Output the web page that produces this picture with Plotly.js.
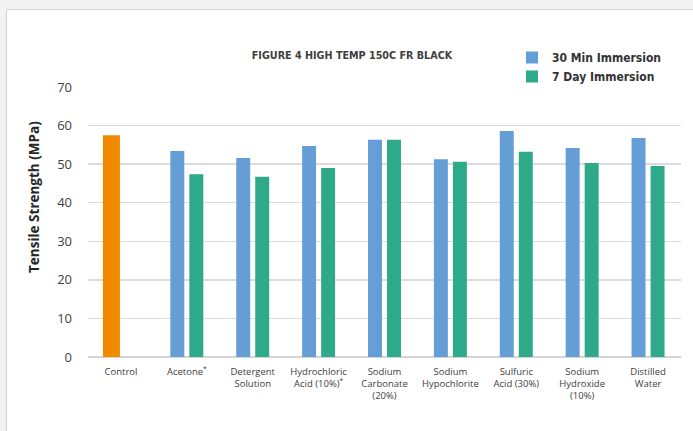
<!DOCTYPE html>
<html>
<head>
<meta charset="utf-8">
<script src="https://cdn.plot.ly/plotly-3.0.1.min.js"></script>
<style>
  html, body { margin: 0; padding: 0; background: #f2f2f2; width: 693px; height: 431px; overflow: hidden; }
  #frame { position: absolute; left: 6px; top: 9px; width: 720px; height: 460px; background: #ffffff; border: 1px solid #d4d4d4; }
  #chart { position: absolute; left: 0; top: 0; width: 693px; height: 431px; }
</style>
</head>
<body>
<div id="frame"></div>
<div id="chart"></div>
<script>
const controlLabel = ["Control"];
const controlValue = [57.5];
const categories = [
  "Acetone<sup>*</sup>",
  "Detergent<br>Solution",
  "Hydrochloric<br>Acid (10%)<sup>*</sup>",
  "Sodium<br>Carbonate<br>(20%)",
  "Sodium<br>Hypochlorite",
  "Sulfuric<br>Acid (30%)",
  "Sodium<br>Hydroxide<br>(10%)",
  "Distilled<br>Water"
];
const min30 = [53.4, 51.6, 54.7, 56.3, 51.3, 58.6, 54.2, 56.8];
const day7 = [47.4, 46.7, 49.0, 56.3, 50.6, 53.2, 50.3, 49.5];
const yTicks = [0, 10, 20, 30, 40, 50, 60, 70];

const allCats = controlLabel.concat(categories);

const traces = [
  {
    type: "bar", name: "Control", x: controlLabel, y: controlValue,
    marker: { color: "#F28A00" }, offsetgroup: "a", width: 0.258,
    showlegend: false, hoverinfo: "y"
  },
  {
    type: "bar", name: "30 Min Immersion", x: categories, y: min30,
    marker: { color: "#659ED6" }, offsetgroup: "a", width: 0.212
  },
  {
    type: "bar", name: "7 Day Immersion", x: categories, y: day7,
    marker: { color: "#2EAA8A" }, offsetgroup: "b", width: 0.212
  }
];

const narrow = "DejaVu Sans Condensed, Open Sans, sans-serif";

const layout = {
  width: 693, height: 431,
  paper_bgcolor: "rgba(0,0,0,0)", plot_bgcolor: "rgba(0,0,0,0)",
  margin: { l: 88, r: 12, t: 87, b: 74, pad: 0, autoexpand: false },
  barmode: "group", bargap: 0.423,
  font: { family: "Open Sans, Noto Sans, sans-serif", color: "#404040" },
  title: {
    text: "<b>FIGURE 4 HIGH TEMP 150C FR BLACK</b>",
    font: { size: 10.7, color: "#404040", family: narrow },
    x: 352 / 693, xanchor: "center", xref: "container",
    y: 1 - 55 / 431, yanchor: "middle", yref: "container"
  },
  xaxis: {
    type: "category", categoryorder: "array", categoryarray: allCats,
    tickfont: { size: 9.5, color: "#404040" },
    showgrid: false, zeroline: false, showline: false, ticks: "",
    ticklabelstandoff: 7
  },
  yaxis: {
    range: [0, 70], tickvals: yTicks, ticktext: yTicks.map(String),
    tickfont: { size: 13, color: "#404040" },
    showgrid: true, gridcolor: "#dcdcdc", gridwidth: 1.5,
    zeroline: true, zerolinecolor: "#d4d4d4", zerolinewidth: 2,
    ticks: "", ticklabelstandoff: 15
  },
  annotations: [{
    text: "<b>Tensile Strength (MPa)</b>", textangle: -90,
    xref: "paper", yref: "paper",
    x: (34 - 88) / 593, y: (357 - 197) / 270,
    xanchor: "center", yanchor: "middle", showarrow: false,
    font: { size: 13.5, color: "#262626", family: "Open Sans, sans-serif" }
  }],
  legend: {
    x: 0.715, y: 1.163, xanchor: "left", yanchor: "top",
    orientation: "v", bgcolor: "rgba(0,0,0,0)",
    font: { size: 12, color: "#333333", family: narrow, weight: "bold" },
    itemwidth: 30, tracegroupgap: 0
  },
  showlegend: true
};

Plotly.newPlot("chart", traces, layout, { displayModeBar: false, staticPlot: true });
</script>
</body>
</html>
